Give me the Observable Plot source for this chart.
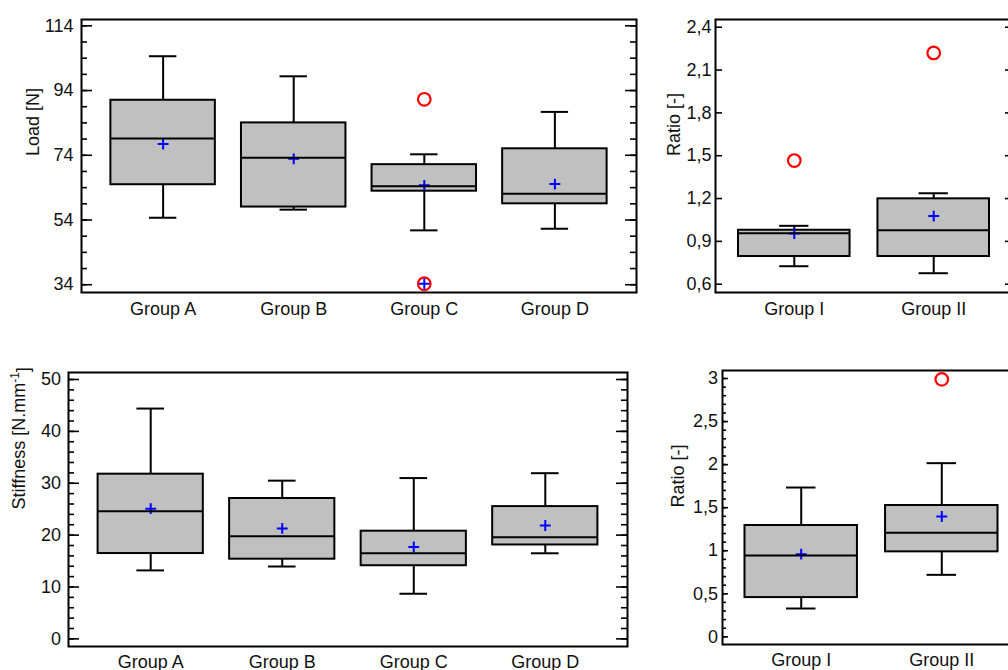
<!DOCTYPE html>
<html><head><meta charset="utf-8">
<script src="https://cdn.jsdelivr.net/npm/d3@7"></script>
<script src="https://cdn.jsdelivr.net/npm/@observablehq/plot@0.6"></script>
<style>
html,body{margin:0;padding:0;background:#fff;}
#root{position:relative;width:1008px;height:670px;overflow:hidden;}
.panel{position:absolute;}
.panel svg{max-width:none !important;}
</style></head><body><div id="root"></div>
<script>
// ---------- Panel 1: Load ----------
const loadGroups = ["Group A", "Group B", "Group C", "Group D"];
const loadMin    = [54.7, 57.2, 50.8, 51.3];
const loadQ1     = [64.9, 58.0, 62.9, 59.0];
const loadMedian = [79.2, 73.2, 64.4, 62.1];
const loadQ3     = [91.0, 84.0, 71.1, 76.0];
const loadMax    = [104.6, 98.4, 74.3, 87.4];
const loadMean   = [77.5, 72.9, 64.7, 65.1];
const loadOutlierGroup = ["Group C", "Group C"];
const loadOutlierValue = [91.3, 34.3];
const loadExtraPlusGroup = ["Group C"];
const loadExtraPlusValue = [34.3];
const loadTicks = [34, 54, 74, 94, 114];

// ---------- Panel 2: Ratio (top) ----------
const ratioAGroups = ["Group I", "Group II"];
const ratioAMin    = [0.726, 0.677];
const ratioAQ1     = [0.794, 0.794];
const ratioAMedian = [0.957, 0.978];
const ratioAQ3     = [0.978, 1.198];
const ratioAMax    = [1.009, 1.237];
const ratioAMean   = [0.955, 1.077];
const ratioAOutlierGroup = ["Group I", "Group II"];
const ratioAOutlierValue = [1.466, 2.22];
const ratioATicks = [0.6, 0.9, 1.2, 1.5, 1.8, 2.1, 2.4];

// ---------- Panel 3: Stiffness ----------
const stiffGroups = ["Group A", "Group B", "Group C", "Group D"];
const stiffMin    = [13.2, 13.95, 8.7, 16.5];
const stiffQ1     = [16.45, 15.36, 14.1, 18.1];
const stiffMedian = [24.6, 19.8, 16.5, 19.6];
const stiffQ3     = [31.75, 27.06, 20.76, 25.5];
const stiffMax    = [44.4, 30.5, 31.0, 31.94];
const stiffMean   = [25.1, 21.3, 17.7, 21.85];
const stiffTicks  = [0, 10, 20, 30, 40, 50];

// ---------- Panel 4: Ratio (bottom) ----------
const ratioBGroups = ["Group I", "Group II"];
const ratioBMin    = [0.329, 0.72];
const ratioBQ1     = [0.456, 0.987];
const ratioBMedian = [0.944, 1.208];
const ratioBQ3     = [1.293, 1.525];
const ratioBMax    = [1.734, 2.017];
const ratioBMean   = [0.96, 1.397];
const ratioBOutlierGroup = ["Group II"];
const ratioBOutlierValue = [2.99];
const ratioBTicks = [0, 0.5, 1, 1.5, 2, 2.5, 3];

const FONT = "'Liberation Sans', Arial, Helvetica, sans-serif";
const FS = 18;

function rowsOf(groups, mn, q1, md, q3, mx, mean) {
  return groups.map((g, i) => ({group: g, pos: i + 1, min: mn[i], q1: q1[i], median: md[i], q3: q3[i], max: mx[i], mean: mean[i]}));
}
function pointsOf(groups, gs, vs) {
  return gs.map((g, i) => ({pos: groups.indexOf(g) + 1, value: vs[i]}));
}

function panel(cfg) {
  const {rows, outliers = [], extraPlus = [], groups, xDomain, yDomain, majors, minors, majorLen, minorLen,
         fmt, label, labelDx, tickPad, xPad = 10, left, top, width, height, ml, mr, mt, mb} = cfg;
  const fw = width - ml - mr;
  const half = 0.4, cap = 0.105, plusR = 3.6;
  const marks = [
    Plot.ruleX(rows, {x: "pos", y1: "q3", y2: "max", stroke: "black", strokeWidth: 2}),
    Plot.ruleX(rows, {x: "pos", y1: "min", y2: "q1", stroke: "black", strokeWidth: 2}),
    Plot.ruleY(rows, {y: "max", x1: d => d.pos - cap, x2: d => d.pos + cap, stroke: "black", strokeWidth: 2}),
    Plot.ruleY(rows, {y: "min", x1: d => d.pos - cap, x2: d => d.pos + cap, stroke: "black", strokeWidth: 2}),
    Plot.rect(rows, {x1: d => d.pos - half, x2: d => d.pos + half, y1: "q1", y2: "q3", fill: "#c0c0c0", stroke: "black", strokeWidth: 2}),
    Plot.dot(rows, {x: "pos", y: "mean", symbol: "plus", r: plusR, stroke: "#0000ff", strokeWidth: 2}),
    Plot.ruleY(rows, {y: "median", x1: d => d.pos - half, x2: d => d.pos + half, stroke: "black", strokeWidth: 2}),
    Plot.dot(outliers, {x: "pos", y: "value", r: 6.3, stroke: "#ff0000", strokeWidth: 2.2, fill: "none"}),
    Plot.dot(extraPlus, {x: "pos", y: "value", symbol: "plus", r: plusR, stroke: "#0000ff", strokeWidth: 2}),
    Plot.tickY(minors, {y: d => d, insetRight: fw - minorLen, stroke: "black", strokeWidth: 1.6}),
    Plot.tickY(majors, {y: d => d, insetRight: fw - majorLen, stroke: "black", strokeWidth: 1.6}),
    Plot.tickY(minors, {y: d => d, insetLeft: fw - minorLen, stroke: "black", strokeWidth: 1.6}),
    Plot.tickY(majors, {y: d => d, insetLeft: fw - majorLen, stroke: "black", strokeWidth: 1.6}),
    Plot.frame({stroke: "black", strokeWidth: 2}),
    Plot.axisY(majors, {anchor: "left", tickSize: 0, tickPadding: tickPad, tickFormat: fmt, fontSize: FS, label: null, fill: "#111"}),
    Plot.axisX(groups.map((g, i) => i + 1), {anchor: "bottom", tickSize: 0, tickPadding: xPad, tickFormat: v => groups[v - 1], fontSize: FS, label: null, fill: "#111"}),
    Plot.text([label], {text: d => d, frameAnchor: "left", dx: labelDx, rotate: -90, fontSize: FS, fill: "#111"})
  ];
  const chart = Plot.plot({
    width, height, marginLeft: ml, marginRight: mr, marginTop: mt, marginBottom: mb,
    x: {type: "linear", domain: xDomain, axis: null},
    y: {type: "linear", domain: yDomain, axis: null},
    style: {fontFamily: FONT, fontSize: FS + "px", color: "#111", background: "transparent", overflow: "visible", maxWidth: "none"},
    marks
  });
  chart.style.maxWidth = "none";
  chart.setAttribute("width", width);
  chart.setAttribute("height", height);
  const div = document.createElement("div");
  div.className = "panel";
  div.style.left = left + "px";
  div.style.top = top + "px";
  div.style.width = width + "px";
  div.style.height = height + "px";
  div.appendChild(chart);
  document.getElementById("root").appendChild(div);
  return chart;
}

panel({
  rows: rowsOf(loadGroups, loadMin, loadQ1, loadMedian, loadQ3, loadMax, loadMean),
  outliers: pointsOf(loadGroups, loadOutlierGroup, loadOutlierValue),
  extraPlus: pointsOf(loadGroups, loadExtraPlusGroup, loadExtraPlusValue),
  groups: loadGroups, xDomain: [0.375, 4.625], yDomain: [31.6, 115.95],
  majors: loadTicks, minors: d3.range(34, 115, 5), majorLen: 11, minorLen: 6,
  fmt: d => String(d), label: "Load [N]", labelDx: -48.5, tickPad: 8,
  left: 0, top: 0, width: 660, height: 325, ml: 81, mr: 24, mt: 19, mb: 33
});

panel({
  rows: rowsOf(ratioAGroups, ratioAMin, ratioAQ1, ratioAMedian, ratioAQ3, ratioAMax, ratioAMean),
  outliers: pointsOf(ratioAGroups, ratioAOutlierGroup, ratioAOutlierValue),
  groups: ratioAGroups, xDomain: [0.435, 2.565], yDomain: [0.542, 2.454],
  majors: ratioATicks, minors: [], majorLen: 7, minorLen: 0,
  fmt: d => d.toFixed(1).replace(".", ","), label: "Ratio [-]", labelDx: -41.5, tickPad: 4,
  left: 640, top: 0, width: 380, height: 325, ml: 75, mr: 8, mt: 19, mb: 33
});

const stiff = panel({
  rows: rowsOf(stiffGroups, stiffMin, stiffQ1, stiffMedian, stiffQ3, stiffMax, stiffMean),
  groups: stiffGroups, xDomain: [0.375, 4.625], yDomain: [-1.47, 51.35],
  majors: stiffTicks, minors: d3.range(0, 51, 2), majorLen: 11, minorLen: 6,
  fmt: d => String(d), label: "Stiffness [N.mm-1]", labelDx: -49, tickPad: 7.5, xPad: 9,
  left: 0, top: 340, width: 660, height: 330, ml: 68, mr: 33, mt: 32, mb: 24
});

panel({
  rows: rowsOf(ratioBGroups, ratioBMin, ratioBQ1, ratioBMedian, ratioBQ3, ratioBMax, ratioBMean),
  outliers: pointsOf(ratioBGroups, ratioBOutlierGroup, ratioBOutlierValue),
  groups: ratioBGroups, xDomain: [0.44, 2.56], yDomain: [-0.089, 3.093],
  majors: ratioBTicks, minors: d3.range(0, 3.05, 0.1).map(v => +v.toFixed(1)), majorLen: 6, minorLen: 4,
  fmt: d => String(d).replace(".", ","), label: "Ratio [-]", labelDx: -44, tickPad: 4.5, xPad: 9,
  left: 640, top: 340, width: 400, height: 330, ml: 82, mr: 20, mt: 30, mb: 26
});

// superscript for the stiffness unit
d3.select(stiff).selectAll("text").each(function () {
  if (this.textContent === "Stiffness [N.mm-1]") {
    const t = d3.select(this);
    t.text(null);
    t.append("tspan").text("Stiffness [N.mm");
    t.append("tspan").attr("dy", "-0.55em").attr("font-size", "12px").text("-1");
    t.append("tspan").attr("dy", "0.55em").text("]");
  }
});
</script></body></html>
